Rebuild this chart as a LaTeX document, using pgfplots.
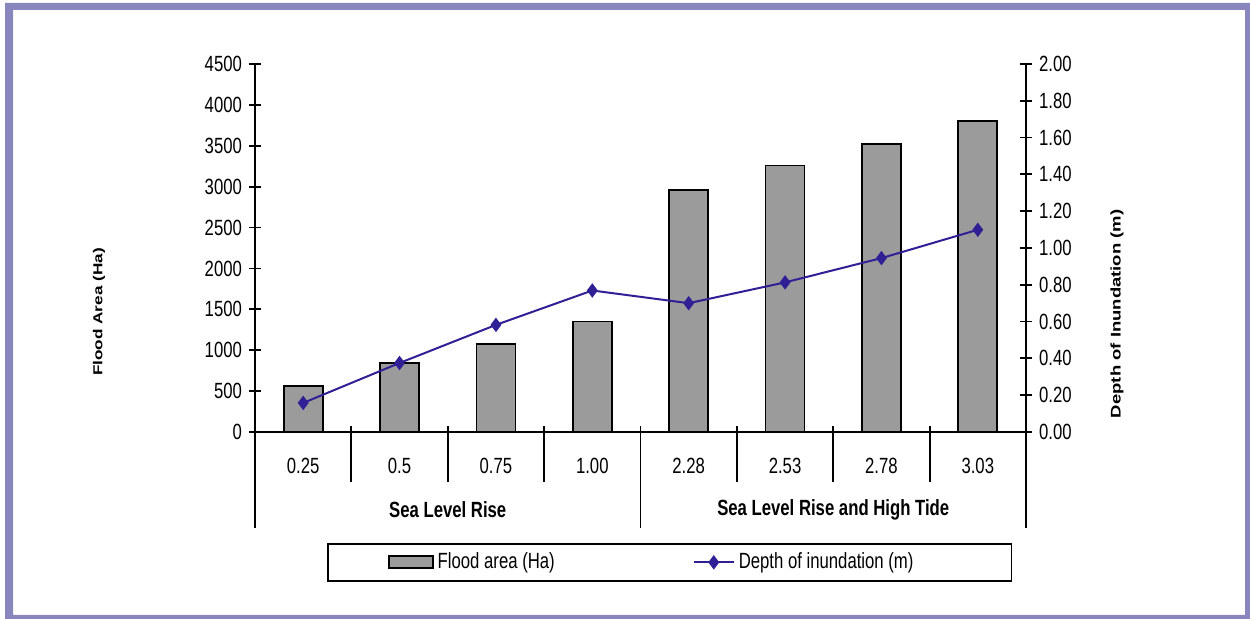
\documentclass[border=0pt]{standalone}
\usepackage{fontspec}
\setmainfont{Liberation Sans}[FakeStretch=0.76]
\newfontfamily\rotfont{Liberation Sans}[FakeStretch=1.32]
\usepackage{pgfplots}
\pgfplotsset{compat=1.18}
\definecolor{framec}{RGB}{136,134,188}
\definecolor{barfill}{RGB}{155,155,155}
\definecolor{linec}{RGB}{48,32,150}
\newcommand\ff{\fontsize{11}{13}\selectfont}
\pgfplotsset{
  barlegend/.style={legend image code/.code={\draw[##1] (0pt,-3pt) rectangle (22pt,3pt);}},
  linelegend/.style={legend image code/.code={\draw[mark repeat=2,mark phase=2,##1] plot coordinates {(0pt,0pt) (10pt,0pt) (20pt,0pt)};}},
}
\begin{document}
\begin{tikzpicture}[font=\ff]
\path[use as bounding box] (0pt,0pt) rectangle (625pt,309.5pt);
\fill[framec, even odd rule] (2.5pt,0pt) rectangle (625pt,308pt) (6.5pt,2pt) rectangle (622.5pt,304.5pt);

\begin{axis}[
  name=ax1,
  at={(127.5pt,93.5pt)}, anchor=south west,
  scale only axis, width=385.5pt, height=184pt,
  xmin=-0.5, xmax=7.5, ymin=0, ymax=4500,
  ytick={0,500,1000,1500,2000,2500,3000,3500,4000,4500},
  axis x line*=bottom, axis y line*=left,
  axis line style={black, line width=0.9pt},
  xtick={0,1,2,3,4,5,6,7},
  xticklabels={0.25,0.5,0.75,1.00,2.28,2.53,2.78,3.03},
  x tick style={draw=none},
  y tick style={black, line width=0.9pt},
  tick align=center, major tick length=6pt,
  /pgf/number format/assume math mode=true,
  /pgf/number format/1000 sep={},
  tick label style={font=\ff},
  xticklabel style={anchor=center, yshift=-11pt},
  ylabel={Flood Area (Ha)},
  ylabel style={at={(axis description cs:-0.2023,0.326)}, anchor=center, font=\rotfont\bfseries\fontsize{6.5}{7}\selectfont},
  ybar, bar width=19.5pt,
  clip=false,
]
\addplot[fill=barfill, draw=black, line width=0.9pt] coordinates {(0,565) (1,845) (2,1078) (3,1350) (4,2955) (5,3260) (6,3520) (7,3800)};
\draw[black, line width=0.9pt] (axis cs:0.5,0) ++(0pt,3pt) -- ++(0pt,-28pt);
\draw[black, line width=0.9pt] (axis cs:1.5,0) ++(0pt,3pt) -- ++(0pt,-28pt);
\draw[black, line width=0.9pt] (axis cs:2.5,0) ++(0pt,3pt) -- ++(0pt,-28pt);
\draw[black, line width=0.9pt] (axis cs:4.5,0) ++(0pt,3pt) -- ++(0pt,-28pt);
\draw[black, line width=0.9pt] (axis cs:5.5,0) ++(0pt,3pt) -- ++(0pt,-28pt);
\draw[black, line width=0.9pt] (axis cs:6.5,0) ++(0pt,3pt) -- ++(0pt,-28pt);
\draw[black, line width=0.9pt] (axis cs:3.5,0) ++(0pt,3pt) -- ++(0pt,-51pt);
\draw[black, line width=0.9pt] (axis cs:-0.5,0) -- ++(0pt,-48pt);
\draw[black, line width=0.9pt] (axis cs:7.5,0) -- ++(0pt,-48pt);
\node[font=\ff\bfseries] at (axis cs:1.5,0) [yshift=-39pt] {Sea Level Rise};
\node[font=\ff\bfseries] at (axis cs:5.5,0) [yshift=-39pt] {Sea Level Rise and High Tide};
\end{axis}

\begin{axis}[
  at={(ax1.south west)}, anchor=south west,
  scale only axis, width=385.5pt, height=184pt,
  xmin=-0.5, xmax=7.5, ymin=0, ymax=2,
  ytick={0,0.2,0.4,0.6,0.8,1.0,1.2,1.4,1.6,1.8,2.0},
  axis y line*=right, hide x axis,
  axis line style={black, line width=0.9pt},
  y tick style={black, line width=0.9pt},
  tick align=center, major tick length=6pt,
  /pgf/number format/assume math mode=true,
  yticklabel style={font=\ff, /pgf/number format/.cd, fixed, fixed zerofill, precision=2},
  ylabel={Depth of Inundation (m)},
  ylabel style={at={(axis description cs:1.118,0.321)}, anchor=center, font=\rotfont\bfseries\fontsize{7}{8}\selectfont},
  clip=false,
  legend columns=2,
  legend style={at={(axis description cs:0.0934,-0.3016)}, anchor=north west,
    draw=black, line width=0.9pt, inner xsep=30pt, inner ysep=2.5pt, font=\ff,
    /tikz/every even column/.append style={column sep=67pt}},
]
\addlegendimage{fill=barfill, draw=black, line width=0.9pt, barlegend}
\addlegendentry{Flood area (Ha)}
\addplot[linec, line width=1pt, mark=diamond*, mark size=2.8pt, linelegend]
  coordinates {(0,0.158) (1,0.375) (2,0.582) (3,0.769) (4,0.700) (5,0.813) (6,0.945) (7,1.099)};
\addlegendentry{Depth of inundation (m)\rule{17pt}{0pt}}
\end{axis}
\end{tikzpicture}
\end{document}
